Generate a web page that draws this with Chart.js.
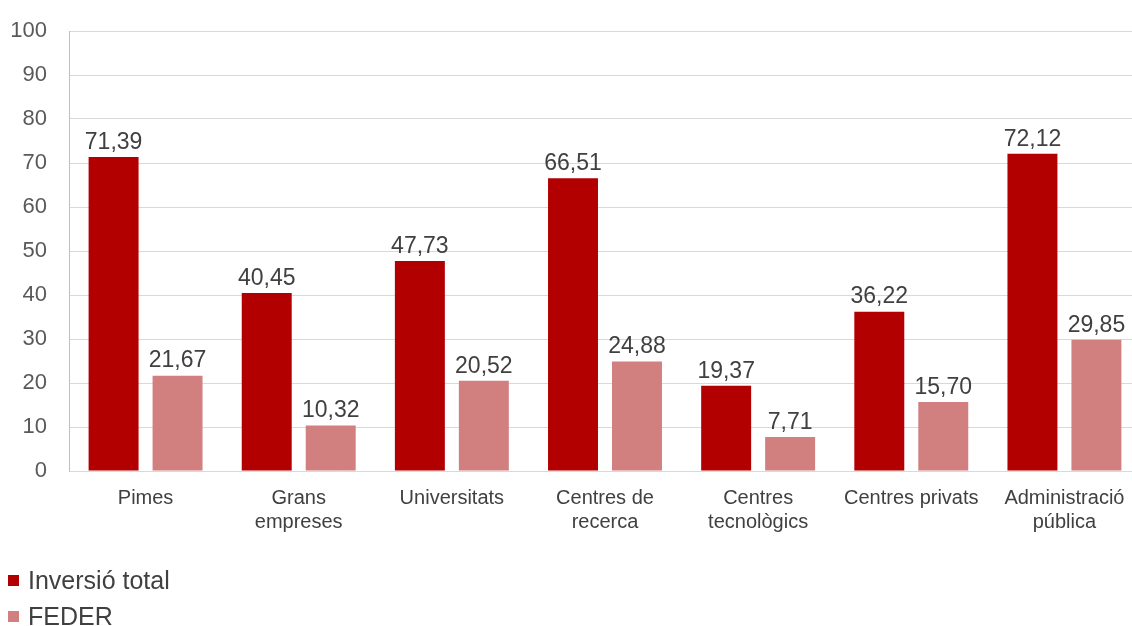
<!DOCTYPE html>
<html>
<head>
<meta charset="utf-8">
<script src="https://cdn.jsdelivr.net/npm/chart.js@4.4.1/dist/chart.umd.min.js"></script>
<style>
  html, body { margin: 0; padding: 0; background: #ffffff; overflow: hidden; }
  body { width: 1132px; height: 626px; position: relative; }
  #wrap { position: absolute; left: 0; top: 0; width: 1145px; height: 626px; }
  #legend { position: absolute; left: 8px; top: 562px; font-family: "Liberation Sans", Arial, sans-serif; font-size: 25px; color: #404040; }
  #legend .item { display: flex; align-items: center; height: 36px; }
  #legend .box { width: 11px; height: 11px; margin-right: 9px; }
</style>
</head>
<body>
<div id="wrap"><canvas id="c" width="1145" height="626"></canvas></div>
<div id="legend"></div>
<script>
const categories = [
  "Pimes",
  ["Grans", "empreses"],
  "Universitats",
  ["Centres de", "recerca"],
  ["Centres", "tecnològics"],
  "Centres privats",
  ["Administració", "pública"]
];
const seriesNames = ["Inversió total", "FEDER"];
const inversioTotal = [71.39, 40.45, 47.73, 66.51, 19.37, 36.22, 72.12];
const feder = [21.67, 10.32, 20.52, 24.88, 7.71, 15.70, 29.85];
const yTicks = [0, 10, 20, 30, 40, 50, 60, 70, 80, 90, 100];
const colors = ["#B20000", "#D27F80"];

const fmt = v => v.toFixed(2).replace('.', ',');

const valueLabels = {
  id: 'valueLabels',
  afterDatasetsDraw(chart) {
    const ctx = chart.ctx;
    ctx.save();
    ctx.font = '23px "Liberation Sans", Arial, sans-serif';
    ctx.fillStyle = '#404040';
    ctx.textAlign = 'center';
    ctx.textBaseline = 'bottom';
    chart.data.datasets.forEach((ds, i) => {
      const meta = chart.getDatasetMeta(i);
      meta.data.forEach((bar, j) => {
        ctx.fillText(fmt(ds.data[j]), bar.x, bar.y - 3);
      });
    });
    ctx.restore();
  }
};

const chart = new Chart(document.getElementById('c'), {
  type: 'bar',
  data: {
    labels: categories,
    datasets: [
      { label: seriesNames[0], data: inversioTotal, backgroundColor: colors[0] },
      { label: seriesNames[1], data: feder, backgroundColor: colors[1] }
    ]
  },
  options: {
    responsive: false,
    animation: false,
    events: [],
    layout: { padding: { top: 31, right: 4, left: 0, bottom: 0 } },
    datasets: { bar: { categoryPercentage: 0.8355, barPercentage: 0.781 } },
    plugins: { legend: { display: false }, tooltip: { enabled: false } },
    scales: {
      x: {
        grid: { display: false, drawTicks: false },
        border: { display: false },
        ticks: {
          padding: 15,
          maxRotation: 0,
          autoSkip: false,
          color: '#404040',
          font: { family: '"Liberation Sans", Arial, sans-serif', size: 20, lineHeight: 1.2 }
        },
        afterFit(scale) { scale.height = 155; }
      },
      y: {
        min: 0, max: 100,
        afterBuildTicks(scale) { scale.ticks = yTicks.map(v => ({ value: v })); },
        grid: { color: '#D9D9D9', lineWidth: 1, drawTicks: false },
        border: { display: true, color: '#BFBFBF' },
        ticks: {
          padding: 22,
          color: '#595959',
          font: { family: '"Liberation Sans", Arial, sans-serif', size: 22 }
        },
        afterFit(scale) { scale.width = 69; scale.paddingTop = 0; scale.paddingBottom = 0; }
      }
    }
  },
  plugins: [valueLabels]
});

const legend = document.getElementById('legend');
chart.data.datasets.forEach(ds => {
  const item = document.createElement('div');
  item.className = 'item';
  const box = document.createElement('span');
  box.className = 'box';
  box.style.background = ds.backgroundColor;
  const txt = document.createElement('span');
  txt.textContent = ds.label;
  item.appendChild(box);
  item.appendChild(txt);
  legend.appendChild(item);
});
</script>
</body>
</html>
